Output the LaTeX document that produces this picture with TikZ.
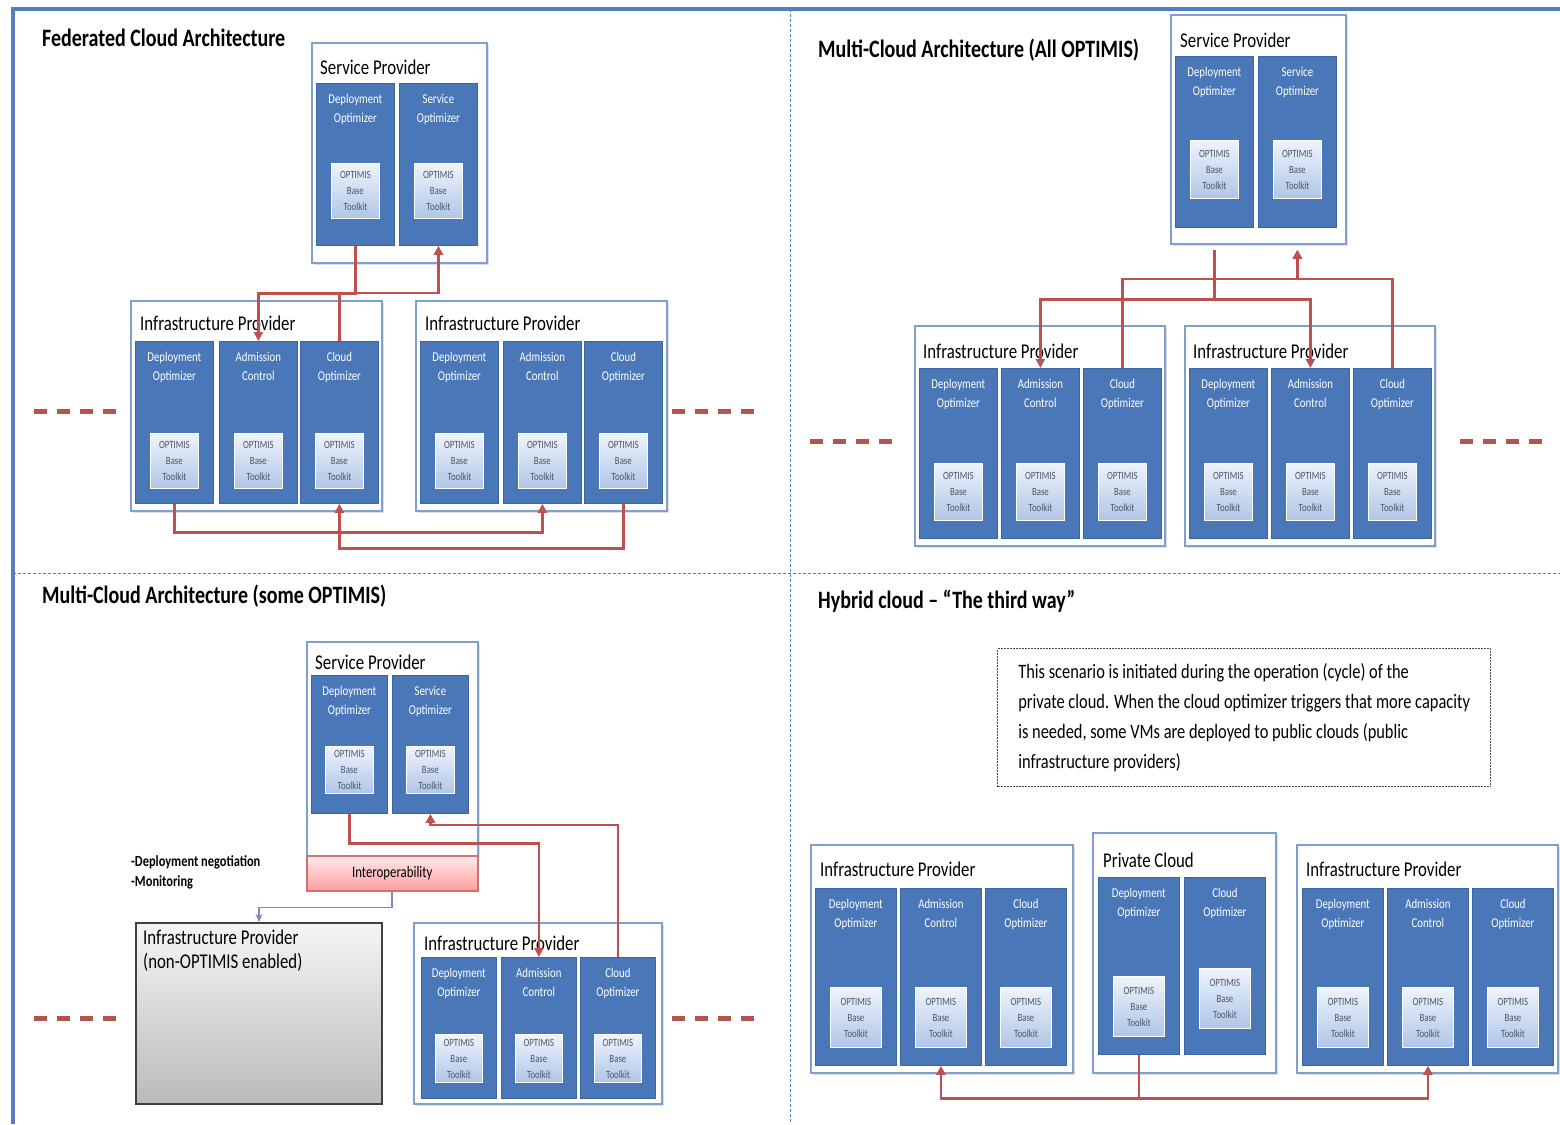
\documentclass[tikz,border=0pt]{standalone}
\usepackage{fontspec}
\setmainfont[FakeStretch=0.8]{Carlito}
\usetikzlibrary{positioning,arrows.meta,shadows}

\definecolor{modblue}{HTML}{4A77B8}
\definecolor{modedge}{HTML}{3A65A2}
\definecolor{boxedge}{HTML}{7F9FCC}
\definecolor{framblue}{HTML}{5080C0}
\definecolor{linkred}{HTML}{C0504D}
\definecolor{gapred}{HTML}{B4544F}
\definecolor{linkpurple}{HTML}{9081BE}
\definecolor{tktop}{HTML}{EEF3FB}
\definecolor{tkbottom}{HTML}{AFC5E7}
\definecolor{tktext}{HTML}{4A566A}

\tikzset{
  provider/.style={draw=boxedge, line width=1.8pt, fill=white, anchor=north west, inner sep=0pt,
    drop shadow={shadow xshift=2pt, shadow yshift=-2pt, opacity=0.25}},
  module/.style={draw=modedge, line width=0.8pt, fill=modblue, anchor=north west, inner sep=0pt},
  modtext/.style={anchor=north, align=center, text=white, inner sep=0pt, font=\fontsize{13.5}{19}\selectfont},
  toolkit/.style={draw=white, line width=0.8pt, top color=tktop, bottom color=tkbottom, align=center,
    text=tktext, inner sep=0pt, font=\fontsize{11}{16}\selectfont},
  boxlabel/.style={anchor=west, inner sep=0pt, font=\fontsize{21}{24}\selectfont},
  headline/.style={anchor=west, inner sep=0pt, font=\fontsize{25}{30}\selectfont\bfseries},
  redlink/.style={draw=linkred, line width=2.8pt},
  redarrow/.style={redlink, -{Triangle[length=9pt,width=9pt]}},
  purplearrow/.style={draw=linkpurple, line width=1.6pt, -{Stealth[length=8pt,width=7pt]}},
  gapline/.style={draw=gapred, line width=5pt, dash pattern=on 13pt off 10pt},
  divider/.style={draw=framblue, line width=0.8pt, dash pattern=on 3pt off 2pt},
}

% name, x, y, width, height, label, gap below toolkit
\newcommand{\optmod}[7]{%
  \node[module, minimum width=#4, minimum height=#5] (#1) at (#2,#3) {};
  \node[modtext] (#1-t) at ([yshift=-11pt]#1.north) {#6};
  \node[toolkit, minimum width={0.62*#4}, minimum height={0.34*#5}] (#1-k)
    at ([yshift={#7+0.17*#5}]#1.south) {OPTIMIS\\Base\\Toolkit};
}

\begin{document}
\begin{tikzpicture}[x=1pt,y=-1pt]
\useasboundingbox (0,0) rectangle (1560,1124);

\draw[framblue, line width=3.5pt] (13,1124) -- (13,9) -- (1560,9);
\draw[divider] (790,9) -- (790,1124);
\draw[divider] (13,573) -- (1560,573);

% federated
\node[headline] (tltitle) at (42,38) {Federated Cloud Architecture};
\node[provider, minimum width=175, minimum height=220] (tlsp) at (311,42) {};
\node[boxlabel] (tlsp-l) at (320,67) {Service Provider};
\optmod{tlspdo}{316}{83}{78}{162}{Deployment\\Optimizer}{27}
\optmod{tlspso}{399}{83}{78}{162}{Service\\Optimizer}{27}
\node[provider, minimum width=251, minimum height=210] (tl1) at (130,300) {};
\node[boxlabel] (tl1-l) at (140,323) {Infrastructure Provider};
\optmod{tl1do}{135}{341}{78}{162}{Deployment\\Optimizer}{15}
\optmod{tl1ac}{219}{341}{78}{162}{Admission\\Control}{15}
\optmod{tl1co}{300}{341}{78}{162}{Cloud\\Optimizer}{15}
\node[provider, minimum width=251, minimum height=210] (tl2) at (415,300) {};
\node[boxlabel] (tl2-l) at (425,323) {Infrastructure Provider};
\optmod{tl2do}{420}{341}{78}{162}{Deployment\\Optimizer}{15}
\optmod{tl2ac}{503}{341}{78}{162}{Admission\\Control}{15}
\optmod{tl2co}{584}{341}{78}{162}{Cloud\\Optimizer}{15}
\draw[redarrow] (tlspdo.south) -- ++(0,48) -| (tl1ac.north);
\draw[redarrow] (tl1co.north) -- ++(0,-48) -| (tlspso.south);
\draw[redarrow] (tl1do.south) -- ++(0,29) -| (tl2ac.south);
\draw[redarrow] (tl2co.south) -- ++(0,45) -| (tl1co.south);
\draw[gapline] (34,411) -- (120,411);
\draw[gapline] (672,411) -- (760,411);

% all optimis
\node[headline] (trtitle) at (818,50) {Multi-Cloud Architecture (All OPTIMIS)};
\node[provider, minimum width=175, minimum height=229] (trsp) at (1170,14) {};
\node[boxlabel] (trsp-l) at (1180,40) {Service Provider};
\optmod{trspdo}{1175}{56}{78}{171}{Deployment\\Optimizer}{29}
\optmod{trspso}{1258}{56}{78}{171}{Service\\Optimizer}{29}
\node[provider, minimum width=250, minimum height=220] (tr1) at (914,325) {};
\node[boxlabel] (tr1-l) at (923,351) {Infrastructure Provider};
\optmod{tr1do}{919}{368}{78}{170}{Deployment\\Optimizer}{18}
\optmod{tr1ac}{1001}{368}{78}{170}{Admission\\Control}{18}
\optmod{tr1co}{1083}{368}{78}{170}{Cloud\\Optimizer}{18}
\node[provider, minimum width=250, minimum height=220] (tr2) at (1184,325) {};
\node[boxlabel] (tr2-l) at (1193,351) {Infrastructure Provider};
\optmod{tr2do}{1189}{368}{78}{170}{Deployment\\Optimizer}{18}
\optmod{tr2ac}{1271}{368}{78}{170}{Admission\\Control}{18}
\optmod{tr2co}{1353}{368}{78}{170}{Cloud\\Optimizer}{18}
\draw[redarrow, shorten <=22pt] (trspdo.south) -- ++(0,72) -| (tr1ac.north);
\draw[redarrow, shorten <=22pt] (trspdo.south) -- ++(0,72) -| (tr2ac.north);
\draw[redarrow, shorten >=22pt] (tr1co.north) -- ++(0,-89) -| (trspso.south);
\draw[redarrow, shorten >=22pt] (tr2co.north) -- ++(0,-89) -| (trspso.south);
\draw[gapline] (810,441) -- (897,441);
\draw[gapline] (1460,441) -- (1548,441);

% some optimis
\node[headline] (bltitle) at (42,596) {Multi-Cloud Architecture (some OPTIMIS)};
\node[provider, minimum width=171, minimum height=214] (blsp) at (306,641) {};
\node[boxlabel] (blsp-l) at (315,662) {Service Provider};
\optmod{blspdo}{311}{675}{76}{138}{Deployment\\Optimizer}{20}
\optmod{blspso}{392}{675}{76}{138}{Service\\Optimizer}{20}
\node[draw=linkred!80, line width=1.5pt, top color=red!8, bottom color=red!38, anchor=north west,
  minimum width=171, minimum height=35, inner sep=0pt, font=\fontsize{16}{18}\selectfont]
  (interop) at (306,855) {Interoperability};
\node[anchor=west, align=left, inner sep=0pt, font=\fontsize{15.5}{20}\selectfont\bfseries]
  (blnote) at (131,872) {-Deployment negotiation\\-Monitoring};
\node[draw=black!75, line width=2pt, top color=black!4, bottom color=black!27, anchor=north west,
  minimum width=246, minimum height=181, inner sep=0pt] (nonopt) at (135,922) {};
\node[anchor=north west, align=left, inner sep=0pt, font=\fontsize{21}{24}\selectfont]
  (nonopt-l) at (143,930) {Infrastructure Provider\\(non-OPTIMIS enabled)};
\node[provider, minimum width=248, minimum height=181] (bl1) at (413,922) {};
\node[boxlabel] (bl1-l) at (424,943) {Infrastructure Provider};
\optmod{bl1do}{421}{957}{75}{141}{Deployment\\Optimizer}{16}
\optmod{bl1ac}{501}{957}{75}{141}{Admission\\Control}{16}
\optmod{bl1co}{580}{957}{75}{141}{Cloud\\Optimizer}{16}
\draw[redarrow] (blspdo.south) -- ++(0,30) -| (bl1ac.north);
\draw[redarrow] (bl1co.north) -- ++(0,-132) -| (blspso.south);
\draw[purplearrow] (interop.south) -- ++(0,16) -| (nonopt.north);
\draw[gapline] (34,1018) -- (120,1018);
\draw[gapline] (672,1018) -- (760,1018);

% hybrid
\node[headline] (brtitle) at (818,601) {Hybrid cloud – “The third way”};
\node[draw=black!70, line width=1.3pt, dash pattern=on 2pt off 1pt, anchor=north west, align=left,
  minimum width=493, minimum height=138, inner sep=0pt, font=\fontsize{20.5}{30}\selectfont]
  (brnote) at (997,648) {This scenario is initiated during the operation (cycle) of the\\
  private cloud. When the cloud optimizer triggers that more capacity\\
  is needed, some VMs are deployed to public clouds (public\\
  infrastructure providers)};
\node[provider, minimum width=262, minimum height=228] (br1) at (810,844) {};
\node[boxlabel] (br1-l) at (820,869) {Infrastructure Provider};
\optmod{br1do}{815}{888}{81}{177}{Deployment\\Optimizer}{18}
\optmod{br1ac}{900}{888}{81}{177}{Admission\\Control}{18}
\optmod{br1co}{985}{888}{81}{177}{Cloud\\Optimizer}{18}
\node[provider, minimum width=183, minimum height=240] (brpc) at (1092,832) {};
\node[boxlabel] (brpc-l) at (1103,860) {Private Cloud};
\optmod{brpcdo}{1098}{877}{81}{177}{Deployment\\Optimizer}{18}
\optmod{brpcco}{1184}{877}{81}{177}{Cloud\\Optimizer}{26}
\node[provider, minimum width=261, minimum height=228] (br2) at (1296,844) {};
\node[boxlabel] (br2-l) at (1306,869) {Infrastructure Provider};
\optmod{br2do}{1302}{888}{81}{177}{Deployment\\Optimizer}{18}
\optmod{br2ac}{1387}{888}{81}{177}{Admission\\Control}{18}
\optmod{br2co}{1472}{888}{81}{177}{Cloud\\Optimizer}{18}
\draw[redarrow] (brpcdo.south) -- ++(0,44) -| (br1ac.south);
\draw[redarrow] (brpcdo.south) -- ++(0,44) -| (br2ac.south);
\end{tikzpicture}
\end{document}
